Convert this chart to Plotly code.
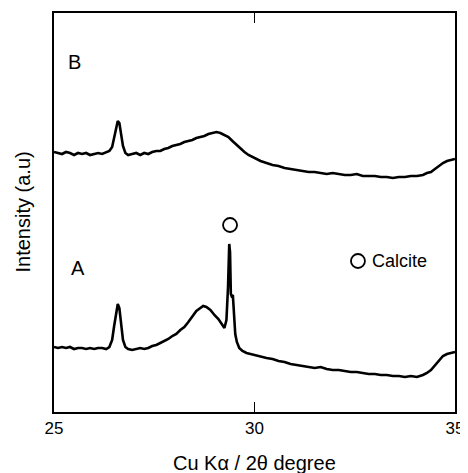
import plotly.graph_objects as go

# 2-theta (degree) and intensity (a.u.)
two_theta_b = [25.0, 25.1, 25.2, 25.3, 25.4, 25.5, 25.6, 25.7, 25.8, 25.9, 26.0, 26.1, 26.2, 26.3, 26.38,
               26.45, 26.5, 26.55, 26.59, 26.63, 26.67, 26.72, 26.78, 26.85, 26.95, 27.05, 27.15, 27.25,
               27.35, 27.45, 27.55, 27.65, 27.75, 27.85, 27.95, 28.05, 28.15, 28.25, 28.35, 28.45, 28.55,
               28.65, 28.75, 28.85, 28.95, 29.05, 29.15, 29.25, 29.35, 29.45, 29.55, 29.65, 29.75, 29.85,
               30.0, 30.15, 30.3, 30.45, 30.6, 30.75, 30.9, 31.05, 31.2, 31.35, 31.5, 31.65, 31.8, 31.95,
               32.1, 32.25, 32.4, 32.55, 32.7, 32.85, 33.0, 33.15, 33.3, 33.45, 33.6, 33.75, 33.9, 34.05,
               34.2, 34.3, 34.4, 34.5, 34.6, 34.7, 34.8, 34.9, 35.0]
intensity_b = [260, 259, 258, 260, 259, 257, 259, 258, 259, 257, 258, 259, 258, 260, 261,
               265, 274, 285, 291, 289, 278, 266, 259, 257, 258, 259, 257, 259, 258,
               260, 261, 261, 263, 264, 266, 267, 268, 270, 271, 272, 274, 275,
               276, 278, 279, 280, 279, 277, 275, 271, 267, 263, 260, 257,
               254, 251, 249, 247, 246, 244, 243, 242, 241, 240, 240, 239, 238, 239,
               238, 237, 237, 238, 236, 236, 236, 235, 235, 234, 235, 235, 236, 236,
               237, 239, 240, 243, 246, 249, 251, 252, 253]

two_theta_a = [25.0, 25.1, 25.2, 25.3, 25.4, 25.5, 25.6, 25.7, 25.8, 25.9, 26.0, 26.1, 26.2, 26.3, 26.38,
               26.45, 26.5, 26.55, 26.59, 26.63, 26.67, 26.72, 26.78, 26.85, 26.95, 27.05, 27.15, 27.25,
               27.35, 27.45, 27.55, 27.65, 27.75, 27.85, 27.95, 28.05, 28.15, 28.25, 28.35, 28.45, 28.55,
               28.65, 28.72, 28.8, 28.9, 29.0, 29.1, 29.2, 29.25, 29.3, 29.34, 29.37, 29.39, 29.41,
               29.43, 29.46, 29.49, 29.52, 29.56, 29.62, 29.7, 29.8, 29.9, 30.0, 30.15, 30.3, 30.45,
               30.6, 30.75, 30.9, 31.05, 31.2, 31.35, 31.5, 31.65, 31.8, 31.95, 32.1, 32.25, 32.4, 32.55,
               32.7, 32.85, 33.0, 33.15, 33.3, 33.45, 33.6, 33.75, 33.9, 34.05, 34.2, 34.3, 34.4, 34.5,
               34.6, 34.7, 34.8, 34.9, 35.0]
intensity_a = [65, 64, 65, 64, 65, 63, 64, 64, 63, 64, 63, 64, 64, 63, 65,
               72, 86, 101, 108, 104, 88, 72, 65, 63, 62, 63, 64, 63,
               64, 66, 67, 69, 71, 73, 76, 78, 82, 85, 90, 96, 101,
               104, 106, 105, 102, 97, 93, 87, 84, 92, 125, 168, 160, 118,
               116, 117, 95, 78, 70, 64, 61, 59, 58, 57, 55, 54, 53,
               51, 50, 48, 47, 46, 45, 44, 45, 43, 42, 42, 41, 40, 40,
               39, 38, 38, 37, 37, 36, 36, 35, 36, 35, 37, 39, 42, 47,
               52, 56, 58, 59, 60]

x_ticks = [25, 30, 35]
calcite_peak = [29.39, 187]
legend_pos = [32.58, 151]
sample_labels = ["A", "B"]
sample_label_x = [25.6, 25.52]
sample_label_y = [144, 350]

FONT = "Liberation Sans, Arial, Helvetica, sans-serif"

fig = go.Figure()
fig.add_trace(go.Scatter(x=two_theta_b, y=intensity_b, mode="lines",
                         line=dict(color="black", width=2.6), showlegend=False))
fig.add_trace(go.Scatter(x=two_theta_a, y=intensity_a, mode="lines",
                         line=dict(color="black", width=2.6), showlegend=False))
fig.add_trace(go.Scatter(x=[calcite_peak[0], legend_pos[0]], y=[calcite_peak[1], legend_pos[1]],
                         mode="markers",
                         marker=dict(symbol="circle-open", size=14, color="black", line=dict(width=1.8)),
                         showlegend=False))

fig.add_annotation(x=legend_pos[0], y=legend_pos[1], text="Calcite", showarrow=False,
                   xanchor="left", yanchor="middle", xshift=12,
                   font=dict(family=FONT, size=18, color="black"))
for lab, lx, ly in zip(sample_labels, sample_label_x, sample_label_y):
    fig.add_annotation(x=lx, y=ly, text=lab, showarrow=False, xanchor="center", yanchor="middle",
                       font=dict(family=FONT, size=20, color="black"))

# axis titles as paper annotations
fig.add_annotation(xref="paper", yref="paper", x=0.5, y=0, yshift=-51, text="Cu K\u03b1 / 2\u03b8 degree",
                   showarrow=False, xanchor="center", yanchor="middle",
                   font=dict(family=FONT, size=20, color="black"))
fig.add_annotation(xref="paper", yref="paper", x=0, y=0.5, xshift=-32, text="Intensity (a.u)",
                   textangle=-90, showarrow=False, xanchor="center", yanchor="middle",
                   font=dict(family=FONT, size=20, color="black"))

# the page body adds an 8 px margin; the figure is sized so it ends at the window edge
fig.update_layout(
    width=460, height=465,
    margin=dict(l=46, r=13, t=5, b=61, autoexpand=False),
    paper_bgcolor="white", plot_bgcolor="white",
    font=dict(family=FONT, color="black"),
    xaxis=dict(range=[25, 35], tickvals=x_ticks, ticktext=[str(t) for t in x_ticks],
               ticks="inside", ticklen=10, tickwidth=1.3, tickcolor="black",
               showline=True, linecolor="black", linewidth=1.8, mirror="ticks",
               showgrid=False, zeroline=False, automargin=False,
               ticklabeloverflow="allow",
               tickfont=dict(size=17, family=FONT)),
    yaxis=dict(range=[0, 399], showticklabels=False, ticks="",
               showline=True, linecolor="black", linewidth=1.8, mirror=True,
               showgrid=False, zeroline=False, automargin=False),
)

fig.write_html("out.html")
